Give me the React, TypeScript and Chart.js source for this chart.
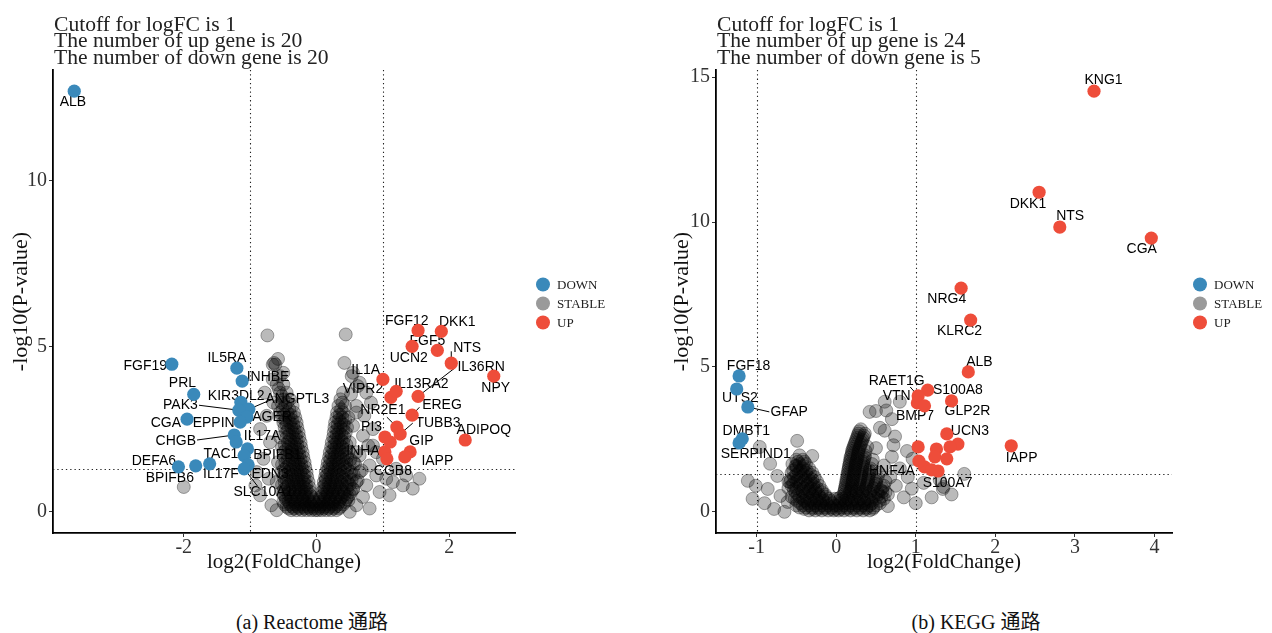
import React, { useEffect, useRef } from "react";
import { Chart, registerables } from "chart.js";

Chart.register(...registerables);

// ---------------- shared thresholds & ticks ----------------
const FC_CUTOFFS = [-1, 1];
const P_CUTOFF = 1.30103; // -log10(0.05)
const LEGEND_ITEMS = ["DOWN", "STABLE", "UP"];

// ---------------- (a) Reactome ----------------
const reactomeSummary = [
  "Cutoff for logFC is 1",
  "The number of up gene is 20",
  "The number of down gene is 20",
];
const reactomeXTicks = [-2, 0, 2];
const reactomeYTicks = [0, 5, 10];

const reactomeDownGenes = ["ALB", "FGF19", "IL5RA", "INHBE", "PRL", "KIR3DL2", "ANGPTL3", "PAK3", "AGER", "EPPIN", "CGA", "CHGB", "IL17A", "BPIFB1", "TAC1", "IL17F", "EDN3", "SLC10A1", "DEFA6", "BPIFB6"];
const reactomeDownX = [-3.65, -2.18, -1.2, -1.12, -1.85, -1.14, -1.02, -1.17, -1.05, -1.15, -1.95, -1.24, -1.21, -1.04, -1.09, -1.61, -1.03, -1.09, -2.08, -1.82];
const reactomeDownY = [12.71, 4.46, 4.34, 3.95, 3.55, 3.31, 3.1, 3.07, 2.86, 2.71, 2.8, 2.32, 2.11, 1.9, 1.7, 1.45, 1.42, 1.3, 1.36, 1.39];

const reactomeUpGenes = ["FGF12", "DKK1", "UCN2", "FGF5", "NTS", "NPY", "IL1A", "VIPR2", "IL13RA2", "IL36RN", "EREG", "NR2E1", "TUBB3", "PI3", "ADIPOQ", "GIP", "IAPP", "INHA", "CGB8", ""];
const reactomeUpX = [1.53, 1.88, 1.44, 1.82, 2.03, 2.67, 1.0, 1.12, 1.2, 1.53, 1.44, 1.21, 1.26, 1.03, 2.24, 1.41, 1.33, 1.03, 1.06, 1.11];
const reactomeUpY = [5.48, 5.45, 5.0, 4.88, 4.49, 4.1, 4.0, 3.46, 3.64, 3.49, 2.92, 2.56, 2.35, 2.26, 2.17, 1.81, 1.66, 1.81, 1.6, 2.11];

// each row: -log10(P) value, then log2FC values of stable genes at about that height
const reactomeStableRows: number[][] = [
  [0.05, -0.38, -0.3, -0.22, -0.15, -0.08, -0.02, 0.02, 0.08, 0.15, 0.22, 0.3],
  [0.1, -0.42, -0.34, -0.26, -0.18, -0.11, -0.04, 0.04, 0.11, 0.18, 0.26, 0.34],
  [0.15, -0.45, -0.36, -0.28, -0.2, -0.12, -0.05, 0.05, 0.12, 0.2, 0.28, 0.36],
  [0.22, -0.48, -0.4, -0.32, -0.24, -0.16, -0.08, 0.0, 0.08, 0.16, 0.24, 0.32, 0.4],
  [0.3, -0.5, -0.42, -0.33, -0.25, -0.18, -0.1, -0.04, 0.04, 0.1, 0.18, 0.26, 0.34, 0.43],
  [0.38, -0.46, -0.38, -0.29, -0.21, -0.13, -0.05, 0.05, 0.12, 0.2, 0.28, 0.36, 0.45],
  [0.45, -0.47, -0.38, -0.3, -0.22, -0.14, -0.07, 0.06, 0.13, 0.21, 0.29, 0.38, 0.47],
  [0.52, -0.5, -0.42, -0.34, -0.26, -0.18, -0.1, 0.1, 0.17, 0.25, 0.33, 0.42, 0.5],
  [0.6, -0.52, -0.41, -0.33, -0.25, -0.17, -0.09, 0.08, 0.16, 0.24, 0.32, 0.41, 0.52],
  [0.68, -0.49, -0.4, -0.31, -0.23, -0.15, 0.12, 0.2, 0.28, 0.37, 0.46, 0.55],
  [0.75, -0.45, -0.36, -0.27, -0.19, -0.11, 0.1, 0.18, 0.26, 0.35, 0.45],
  [0.82, -0.52, -0.42, -0.33, -0.25, -0.16, 0.13, 0.21, 0.3, 0.39, 0.5],
  [0.9, -0.6, -0.48, -0.38, -0.29, -0.2, -0.12, 0.11, 0.19, 0.28, 0.37, 0.47, 0.6],
  [0.97, -0.45, -0.35, -0.27, -0.18, 0.14, 0.23, 0.32, 0.42, 0.53],
  [1.05, -0.5, -0.4, -0.31, -0.22, -0.14, 0.13, 0.21, 0.3, 0.39, 0.5],
  [1.12, -0.46, -0.37, -0.28, -0.19, 0.16, 0.25, 0.34, 0.45, 0.56],
  [1.2, -0.53, -0.42, -0.33, -0.24, -0.15, 0.14, 0.22, 0.31, 0.41, 0.52, 0.65],
  [1.28, -0.49, -0.39, -0.3, -0.21, 0.18, 0.27, 0.36, 0.47],
  [1.35, -0.45, -0.35, -0.26, -0.17, 0.16, 0.24, 0.33, 0.43],
  [1.43, -0.52, -0.41, -0.32, -0.23, 0.2, 0.29, 0.39, 0.5],
  [1.5, -0.58, -0.47, -0.36, -0.27, -0.18, 0.17, 0.25, 0.34, 0.45, 0.56],
  [1.58, -0.43, -0.33, -0.24, 0.21, 0.3, 0.4, 0.51],
  [1.65, -0.48, -0.38, -0.29, -0.2, 0.19, 0.27, 0.36, 0.46],
  [1.73, -0.44, -0.35, -0.26, 0.23, 0.32, 0.42],
  [1.8, -0.5, -0.4, -0.3, -0.21, 0.2, 0.28, 0.37, 0.48, 0.6],
  [1.88, -0.46, -0.37, -0.27, 0.25, 0.34, 0.44],
  [1.95, -0.52, -0.42, -0.32, -0.23, 0.22, 0.3, 0.39],
  [2.03, -0.48, -0.38, -0.29, 0.27, 0.35, 0.45],
  [2.1, -0.43, -0.33, -0.24, 0.23, 0.31, 0.4, 0.5],
  [2.18, -0.4, -0.3, 0.28, 0.37],
  [2.25, -0.55, -0.45, -0.35, -0.26, 0.25, 0.33, 0.42],
  [2.33, -0.41, -0.31, 0.3, 0.38],
  [2.4, -0.46, -0.36, -0.27, 0.26, 0.34, 0.44],
  [2.48, -0.43, -0.33, 0.31, 0.4],
  [2.55, -0.48, -0.38, -0.29, 0.27, 0.36, 0.46],
  [2.63, -0.45, -0.35, 0.32, 0.41],
  [2.7, -0.5, -0.4, -0.3, 0.28, 0.37],
  [2.78, -0.47, -0.37, 0.34, 0.43],
  [2.85, -0.52, -0.42, -0.32, 0.3, 0.39, 0.48],
  [2.93, -0.49, -0.39, 0.35],
  [3.0, -0.55, -0.44, -0.34, 0.31, 0.4],
  [3.1, -0.51, -0.41, 0.37],
  [3.2, -0.58, -0.47, -0.36, 0.33, 0.43],
  [3.3, -0.53, -0.44, 0.39],
  [3.4, -0.5, -0.4, 0.36],
  [3.5, -0.52],
  [3.6, -0.55, -0.45, 0.4],
  [3.72, -0.57],
  [3.85, -0.6, -0.5],
  [4.1, -0.55],
  [4.45, -0.66, -0.62],
];
// scattered stable genes: [log2FC, -log10(P)]
const reactomeStableScatter: [number, number][] = [
  [-0.74, 5.33], [0.44, 5.36], [-0.64, 4.5], [-0.58, 4.62], [-0.78, 3.6], [-0.65, 3.3], [-0.75, 2.9],
  [-0.7, 2.1], [-0.8, 1.6], [-0.72, 1.0], [-0.85, 0.5], [-0.68, 0.2], [-0.9, 1.2], [-0.6, 0.05],
  [-0.5, 4.2], [-0.66, 4.0], [-0.85, 2.5], [-0.92, 0.8], [-2.0, 0.75],
  [0.42, 4.5], [0.53, 4.1], [0.52, 3.55], [0.6, 3.2], [0.55, 2.6], [0.7, 2.3], [0.65, 1.7], [0.8, 1.4],
  [0.75, 0.8], [0.85, 2.0], [0.9, 1.1], [0.95, 0.6], [1.05, 1.0], [1.1, 0.5], [1.2, 1.3], [1.3, 0.8],
  [0.72, 2.9], [0.62, 3.8], [1.0, 1.6], [0.55, 4.2], [0.65, 3.9], [0.75, 3.6], [0.82, 3.3], [0.6, 3.0],
  [0.85, 2.5], [0.78, 2.0], [0.9, 1.8], [1.15, 0.9], [1.45, 0.7], [1.55, 1.0], [1.35, 1.1], [0.6, 0.2],
  [0.7, 0.45], [0.8, 0.1], [0.5, 0.0], [0.48, 0.35], [0.55, 0.7], [0.62, 0.95], [0.68, 1.25], [0.58, 1.45],
];
// label placement: [gene, label log2FC, label -log10(P)]
const reactomeLabels: [string, number, number][] = [
  ["ALB", -3.67, 12.38], ["FGF19", -2.58, 4.4], ["IL5RA", -1.35, 4.64], ["INHBE", -0.73, 4.07],
  ["PRL", -2.02, 3.89], ["KIR3DL2", -1.21, 3.49], ["ANGPTL3", -0.29, 3.4], ["PAK3", -2.05, 3.22],
  ["AGER", -0.67, 2.86], ["CGA", -2.27, 2.68], ["EPPIN", -1.55, 2.68], ["CHGB", -2.12, 2.14],
  ["IL17A", -0.82, 2.29], ["TAC1", -1.44, 1.75], ["BPIFB1", -0.59, 1.72], ["DEFA6", -2.45, 1.54],
  ["BPIFB6", -2.21, 1.02], ["IL17F", -1.44, 1.14], ["EDN3", -0.7, 1.14], ["SLC10A1", -0.8, 0.6],
  ["FGF12", 1.36, 5.75], ["DKK1", 2.12, 5.72], ["FGF5", 1.67, 5.15], ["NTS", 2.27, 4.94],
  ["UCN2", 1.39, 4.64], ["IL36RN", 2.48, 4.37], ["IL1A", 0.74, 4.28], ["NPY", 2.7, 3.73],
  ["VIPR2", 0.7, 3.7], ["IL13RA2", 1.58, 3.86], ["EREG", 1.89, 3.22], ["NR2E1", 1.0, 3.07],
  ["PI3", 0.83, 2.56], ["TUBB3", 1.83, 2.68], ["ADIPOQ", 2.52, 2.47], ["GIP", 1.58, 2.14],
  ["INHA", 0.7, 1.84], ["IAPP", 1.82, 1.54], ["CGB8", 1.15, 1.23],
];
// leader segments: [gene, segment start log2FC, segment start -log10(P)]
const reactomeLeaders: [string, number, number][] = [
  ["PAK3", -1.77, 3.22], ["ANGPTL3", -0.67, 3.4], ["CHGB", -1.8, 2.17], ["SLC10A1", -0.89, 0.78],
  ["NTS", 2.03, 4.85], ["IL36RN", 2.08, 4.34], ["EREG", 1.55, 3.16], ["NR2E1", 1.06, 2.86], ["TUBB3", 1.45, 2.68],
];

// ---------------- (b) KEGG ----------------
const keggSummary = [
  "Cutoff for logFC is 1",
  "The number of up gene is 24",
  "The number of down gene is 5",
];
const keggXTicks = [-1, 0, 1, 2, 3, 4];
const keggYTicks = [0, 5, 10, 15];

const keggDownGenes = ["FGF18", "UTS2", "GFAP", "DMBT1", "SERPIND1"];
const keggDownX = [-1.22, -1.25, -1.11, -1.18, -1.22];
const keggDownY = [4.69, 4.24, 3.62, 2.52, 2.38];

const keggUpGenes = ["KNG1", "DKK1", "NTS", "CGA", "NRG4", "KLRC2", "ALB", "S100A8", "RAET1G", "VTN", "BMP7", "GLP2R", "UCN3", "IAPP", "HNF4A", "S100A7", "", "", "", "", "", "", "", ""];
const keggUpX = [3.24, 2.55, 2.81, 3.96, 1.57, 1.69, 1.66, 1.15, 1.03, 1.02, 1.11, 1.45, 1.39, 2.2, 1.11, 1.28, 1.53, 1.43, 1.26, 1.03, 1.24, 1.39, 1.04, 1.2];
const keggUpY = [14.52, 11.03, 9.83, 9.45, 7.72, 6.62, 4.83, 4.2, 4.0, 3.76, 3.66, 3.83, 2.69, 2.28, 1.55, 1.41, 2.34, 2.24, 2.17, 2.24, 1.9, 1.83, 1.75, 1.45];

const keggStableRows: number[][] = [
  [0.05, -0.34, -0.26, -0.18, -0.1, -0.03, 0.03, 0.1, 0.18, 0.26, 0.34, 0.42],
  [0.1, -0.4, -0.3, -0.22, -0.14, -0.06, 0.0, 0.06, 0.14, 0.22, 0.3, 0.38, 0.46],
  [0.15, -0.46, -0.38, -0.3, -0.22, -0.14, -0.06, 0.06, 0.14, 0.22, 0.3, 0.38, 0.47],
  [0.22, -0.5, -0.42, -0.34, -0.26, -0.18, -0.1, -0.02, 0.02, 0.1, 0.18, 0.26, 0.34, 0.42, 0.5],
  [0.3, -0.45, -0.36, -0.28, -0.2, -0.12, -0.05, 0.05, 0.12, 0.2, 0.28, 0.36, 0.45, 0.55],
  [0.38, -0.49, -0.4, -0.32, -0.24, -0.16, -0.08, 0.04, 0.11, 0.19, 0.27, 0.35, 0.44, 0.54],
  [0.45, -0.52, -0.42, -0.33, -0.25, -0.17, -0.09, -0.02, 0.02, 0.08, 0.15, 0.23, 0.31, 0.4, 0.5, 0.6],
  [0.52, -0.56, -0.46, -0.37, -0.29, -0.21, -0.13, 0.06, 0.13, 0.21, 0.29, 0.38, 0.47, 0.57],
  [0.6, -0.48, -0.39, -0.3, -0.22, -0.14, 0.1, 0.18, 0.26, 0.34, 0.43, 0.53, 0.65],
  [0.68, -0.51, -0.42, -0.34, -0.26, -0.18, 0.1, 0.17, 0.25, 0.33, 0.42, 0.52, 0.62],
  [0.75, -0.53, -0.43, -0.34, -0.26, -0.18, 0.11, 0.19, 0.27, 0.36, 0.45, 0.56],
  [0.82, -0.6, -0.5, -0.41, -0.32, -0.24, 0.11, 0.19, 0.28, 0.37, 0.47, 0.58],
  [0.9, -0.56, -0.46, -0.37, -0.29, -0.21, 0.12, 0.2, 0.29, 0.38, 0.48, 0.6],
  [0.97, -0.54, -0.45, -0.36, -0.28, 0.12, 0.2, 0.29, 0.39, 0.5],
  [1.05, -0.6, -0.5, -0.41, -0.32, -0.24, 0.13, 0.21, 0.3, 0.4, 0.5, 0.62],
  [1.12, -0.57, -0.48, -0.39, -0.3, 0.13, 0.21, 0.3, 0.4, 0.51],
  [1.2, -0.53, -0.44, -0.35, -0.27, 0.14, 0.22, 0.31, 0.41, 0.52],
  [1.28, -0.5, -0.41, -0.32, 0.14, 0.22, 0.31, 0.41],
  [1.35, -0.56, -0.47, -0.38, -0.3, 0.15, 0.23, 0.32, 0.42, 0.54],
  [1.43, -0.54, -0.45, -0.37, 0.15, 0.23, 0.32, 0.42],
  [1.5, -0.5, -0.42, -0.34, 0.16, 0.24, 0.33, 0.43],
  [1.58, -0.5, -0.41, 0.16, 0.24, 0.33],
  [1.65, -0.55, -0.46, -0.38, 0.17, 0.25, 0.34, 0.45],
  [1.73, -0.48, -0.4, 0.17, 0.25, 0.34],
  [1.8, -0.5, -0.42, 0.18, 0.26, 0.35, 0.46],
  [1.88, 0.18, 0.27, 0.36],
  [1.95, -0.46, 0.19, 0.27, 0.36],
  [2.03, 0.2, 0.28],
  [2.1, 0.2, 0.28, 0.37],
  [2.18, 0.21, 0.29],
  [2.25, 0.22, 0.3, 0.39],
  [2.33, 0.23, 0.31],
  [2.4, 0.24, 0.32],
  [2.48, 0.25, 0.33],
  [2.55, 0.26, 0.34],
  [2.63, 0.27, 0.35],
  [2.7, 0.28, 0.36],
  [2.78, 0.29],
  [2.85, 0.31],
];
const keggStableScatter: [number, number][] = [
  [-0.96, 2.24], [-0.49, 2.45], [-0.3, 1.93], [-0.83, 1.66], [-1.11, 1.07], [-1.01, 0.9], [-0.86, 0.79],
  [-0.51, 1.59], [-0.58, 1.03], [-0.74, 1.24], [-0.7, 0.55], [-0.61, 0.34], [-0.9, 0.3], [-0.78, 0.1],
  [-1.05, 0.45], [-0.65, 0.0],
  [0.42, 3.45], [0.63, 3.5], [0.74, 2.6], [0.61, 2.8], [0.89, 2.1], [0.5, 3.48], [0.61, 3.8], [0.8, 3.8],
  [0.7, 3.2], [0.96, 1.83], [1.34, 0.79], [1.61, 1.31], [0.7, 1.9], [0.8, 1.5], [0.9, 1.2], [0.75, 0.9],
  [0.85, 0.5], [0.95, 0.8], [1.0, 0.3], [1.2, 0.5], [1.1, 1.0], [0.65, 0.2], [0.72, 2.3], [0.55, 2.9],
  [0.5, 2.2], [0.6, 1.6], [0.68, 1.2], [0.58, 0.7], [1.45, 0.6], [1.3, 1.1], [1.35, 0.86],
];
const keggLabels: [string, number, number][] = [
  ["FGF18", -1.1, 5.03], ["UTS2", -1.21, 3.93], ["GFAP", -0.59, 3.45], ["DMBT1", -1.13, 2.79],
  ["SERPIND1", -1.01, 2.0], ["KNG1", 3.36, 14.9], ["DKK1", 2.41, 10.62], ["NTS", 2.94, 10.21],
  ["CGA", 3.84, 9.07], ["NRG4", 1.39, 7.34], ["KLRC2", 1.55, 6.24], ["ALB", 1.8, 5.17],
  ["S100A8", 1.53, 4.21], ["RAET1G", 0.76, 4.52], ["VTN", 0.76, 4.0], ["BMP7", 0.99, 3.31],
  ["GLP2R", 1.65, 3.48], ["UCN3", 1.68, 2.79], ["IAPP", 2.33, 1.86], ["HNF4A", 0.7, 1.41],
  ["S100A7", 1.4, 1.0],
];
const keggLeaders: [string, number, number][] = [
  ["GFAP", -0.84, 3.45], ["RAET1G", 0.93, 4.31], ["HNF4A", 1.01, 1.48],
];

// ---------------- styling ----------------
const SERIF = '"Liberation Serif", "Times New Roman", serif';
const SANS = '"Liberation Sans", Arial, sans-serif';
const BLUE = "#3A89BA";
const RED = "#EE4D3A";
const GREY_FILL = "rgba(0,0,0,0.27)";
const GREY_EDGE = "rgba(0,0,0,0.42)";
const GREY_KEY = "#9a9a9a";

type Panel = {
  left: number;
  padLeft: number;
  yAxisWidth: number;
  padRight: number;
  xMin: number; xMax: number; yMin: number; yMax: number;
  xTicks: number[]; yTicks: number[];
  summary: string[];
  downGenes: string[]; downX: number[]; downY: number[];
  upGenes: string[]; upX: number[]; upY: number[];
  stableRows: number[][]; stableScatter: [number, number][];
  labels: [string, number, number][];
  leaders: [string, number, number][];
};

const reactomePanel: Panel = {
  left: 0, padLeft: 0, yAxisWidth: 53, padRight: 121,
  xMin: -3.97, xMax: 2.99, yMin: -0.64, yMax: 13.35,
  xTicks: reactomeXTicks, yTicks: reactomeYTicks, summary: reactomeSummary,
  downGenes: reactomeDownGenes, downX: reactomeDownX, downY: reactomeDownY,
  upGenes: reactomeUpGenes, upX: reactomeUpX, upY: reactomeUpY,
  stableRows: reactomeStableRows, stableScatter: reactomeStableScatter,
  labels: reactomeLabels, leaders: reactomeLeaders,
};
const keggPanel: Panel = {
  left: 636, padLeft: 25, yAxisWidth: 55, padRight: 100,
  xMin: -1.51, xMax: 4.22, yMin: -0.73, yMax: 15.25,
  xTicks: keggXTicks, yTicks: keggYTicks, summary: keggSummary,
  downGenes: keggDownGenes, downX: keggDownX, downY: keggDownY,
  upGenes: keggUpGenes, upX: keggUpX, upY: keggUpY,
  stableRows: keggStableRows, stableScatter: keggStableScatter,
  labels: keggLabels, leaders: keggLeaders,
};

const CANVAS_W = 636;
const CANVAS_H = 600;
const AREA_TOP = 70;
const AREA_BOTTOM = 533;

function findGene(p: Panel, g: string): [number, number] | null {
  let i = p.downGenes.indexOf(g);
  if (i >= 0) return [p.downX[i], p.downY[i]];
  i = p.upGenes.indexOf(g);
  if (i >= 0) return [p.upX[i], p.upY[i]];
  return null;
}

function makePlugin(p: Panel) {
  return {
    id: "volcanoAnnot",
    beforeDatasetsDraw(chart: any) {
      const { ctx, chartArea: a } = chart;
      const xs = chart.scales.x;
      const ys = chart.scales.y;
      ctx.save();
      // cutoff lines
      ctx.strokeStyle = "#222";
      ctx.lineWidth = 1.1;
      ctx.setLineDash([1.3, 3]);
      for (const v of FC_CUTOFFS) {
        const px = Math.round(xs.getPixelForValue(v)) + 0.5;
        ctx.beginPath();
        ctx.moveTo(px, a.top);
        ctx.lineTo(px, a.bottom);
        ctx.stroke();
      }
      const py = Math.round(ys.getPixelForValue(P_CUTOFF)) + 0.5;
      ctx.beginPath();
      ctx.moveTo(a.left, py);
      ctx.lineTo(a.right, py);
      ctx.stroke();
      ctx.setLineDash([]);
      // leader segments
      ctx.strokeStyle = "#000";
      ctx.lineWidth = 1;
      for (const [g, sx, sy] of p.leaders) {
        const pt = findGene(p, g);
        if (!pt) continue;
        ctx.beginPath();
        ctx.moveTo(xs.getPixelForValue(sx), ys.getPixelForValue(sy));
        ctx.lineTo(xs.getPixelForValue(pt[0]), ys.getPixelForValue(pt[1]));
        ctx.stroke();
      }
      // gene labels
      ctx.font = `14px ${SANS}`;
      ctx.fillStyle = "#000";
      ctx.textAlign = "center";
      ctx.textBaseline = "middle";
      for (const [g, lx, ly] of p.labels) {
        ctx.fillText(g, xs.getPixelForValue(lx), ys.getPixelForValue(ly));
      }
      ctx.restore();
    },
    afterDraw(chart: any) {
      const { ctx, chartArea: a } = chart;
      ctx.save();
      // summary lines
      ctx.font = `21.6px ${SERIF}`;
      ctx.fillStyle = "#222";
      ctx.textAlign = "left";
      ctx.textBaseline = "alphabetic";
      const baselines = [30.5, 47.2, 63.9];
      p.summary.forEach((t, i) => ctx.fillText(t, a.left + 1, baselines[i]));
      // legend
      const cy = (a.top + a.bottom) / 2;
      const colors = [BLUE, GREY_KEY, RED];
      const cx = a.right + 28;
      ctx.font = `13px ${SERIF}`;
      ctx.textBaseline = "middle";
      LEGEND_ITEMS.forEach((t, i) => {
        const y = cy - 17 + i * 19;
        ctx.fillStyle = colors[i];
        ctx.beginPath();
        ctx.arc(cx, y, 7, 0, Math.PI * 2);
        ctx.fill();
        ctx.fillStyle = "#222";
        ctx.fillText(t, cx + 14, y + 1);
      });
      ctx.restore();
    },
  };
}

function VolcanoPanel({ p }: { p: Panel }) {
  const ref = useRef<HTMLCanvasElement | null>(null);
  useEffect(() => {
    const canvas = ref.current;
    if (!canvas) return;
    const stable: { x: number; y: number }[] = [];
    for (const row of p.stableRows) {
      for (let k = 1; k < row.length; k++) stable.push({ x: row[k], y: row[0] });
    }
    for (const [x, y] of p.stableScatter) stable.push({ x, y });
    const down = p.downX.map((x, i) => ({ x, y: p.downY[i] }));
    const up = p.upX.map((x, i) => ({ x, y: p.upY[i] }));

    const tickFont = { family: SERIF, size: 20, lineHeight: 1 };
    const chart = new Chart(canvas, {
      type: "scatter",
      data: {
        datasets: [
          { label: "DOWN", data: down, backgroundColor: BLUE, borderWidth: 0, pointRadius: 6.6, order: 1 },
          { label: "STABLE", data: stable, backgroundColor: GREY_FILL, borderColor: GREY_EDGE, borderWidth: 0.8, pointRadius: 6.5, order: 5 },
          { label: "UP", data: up, backgroundColor: RED, borderWidth: 0, pointRadius: 6.6, order: 2 },
        ],
      },
      options: {
        responsive: false,
        animation: false,
        devicePixelRatio: 1,
        events: [],
        layout: { padding: { left: p.padLeft, right: p.padRight, top: AREA_TOP, bottom: 0 } },
        plugins: { legend: { display: false }, tooltip: { enabled: false }, title: { display: false } },
        scales: {
          x: {
            type: "linear",
            min: p.xMin,
            max: p.xMax,
            afterBuildTicks: (s: any) => { s.ticks = p.xTicks.map((v) => ({ value: v })); },
            afterFit: (s: any) => { s.height = CANVAS_H - AREA_BOTTOM; },
            grid: { display: true, drawOnChartArea: false, drawTicks: true, tickLength: 4, color: "#333", lineWidth: 1 },
            border: { display: true, color: "#000", width: 1.8 },
            ticks: { color: "#333", font: tickFont, padding: 1, maxRotation: 0, autoSkip: false, callback: (v: any) => String(v) },
            title: { display: true, text: "log2(FoldChange)", color: "#111", font: { family: SERIF, size: 21, lineHeight: 1 }, padding: { top: 0, bottom: 27 } },
          },
          y: {
            type: "linear",
            min: p.yMin,
            max: p.yMax,
            afterBuildTicks: (s: any) => { s.ticks = p.yTicks.map((v) => ({ value: v })); },
            afterFit: (s: any) => { s.width = p.yAxisWidth; },
            grid: { display: true, drawOnChartArea: false, drawTicks: true, tickLength: 4, color: "#333", lineWidth: 1 },
            border: { display: true, color: "#000", width: 1.8 },
            ticks: { color: "#333", font: tickFont, padding: 2, autoSkip: false, callback: (v: any) => String(v) },
            title: { display: true, text: "-log10(P-value)", color: "#111", font: { family: SERIF, size: 22, lineHeight: 1 }, padding: { top: 10, bottom: 0 } },
          },
        },
      },
      plugins: [makePlugin(p)],
    } as any);
    return () => chart.destroy();
  }, [p]);
  return (
    <canvas
      ref={ref}
      width={CANVAS_W}
      height={CANVAS_H}
      style={{ position: "absolute", left: p.left, top: 0, width: CANVAS_W, height: CANVAS_H }}
    />
  );
}

const captionStyle: React.CSSProperties = {
  position: "absolute",
  top: 610,
  transform: "translateX(-50%)",
  whiteSpace: "nowrap",
  fontFamily: '"Liberation Serif", "Noto Sans CJK SC", serif',
  fontSize: 20,
  lineHeight: "24px",
  color: "#111",
};

export default function App() {
  return (
    <div style={{ position: "absolute", left: 0, top: 0, width: 1272, height: 633, background: "#fff", overflow: "hidden" }}>
      <VolcanoPanel p={reactomePanel} />
      <VolcanoPanel p={keggPanel} />
      <div style={{ ...captionStyle, left: 312 }}>(a) Reactome 通路</div>
      <div style={{ ...captionStyle, left: 976 }}>(b) KEGG 通路</div>
    </div>
  );
}
